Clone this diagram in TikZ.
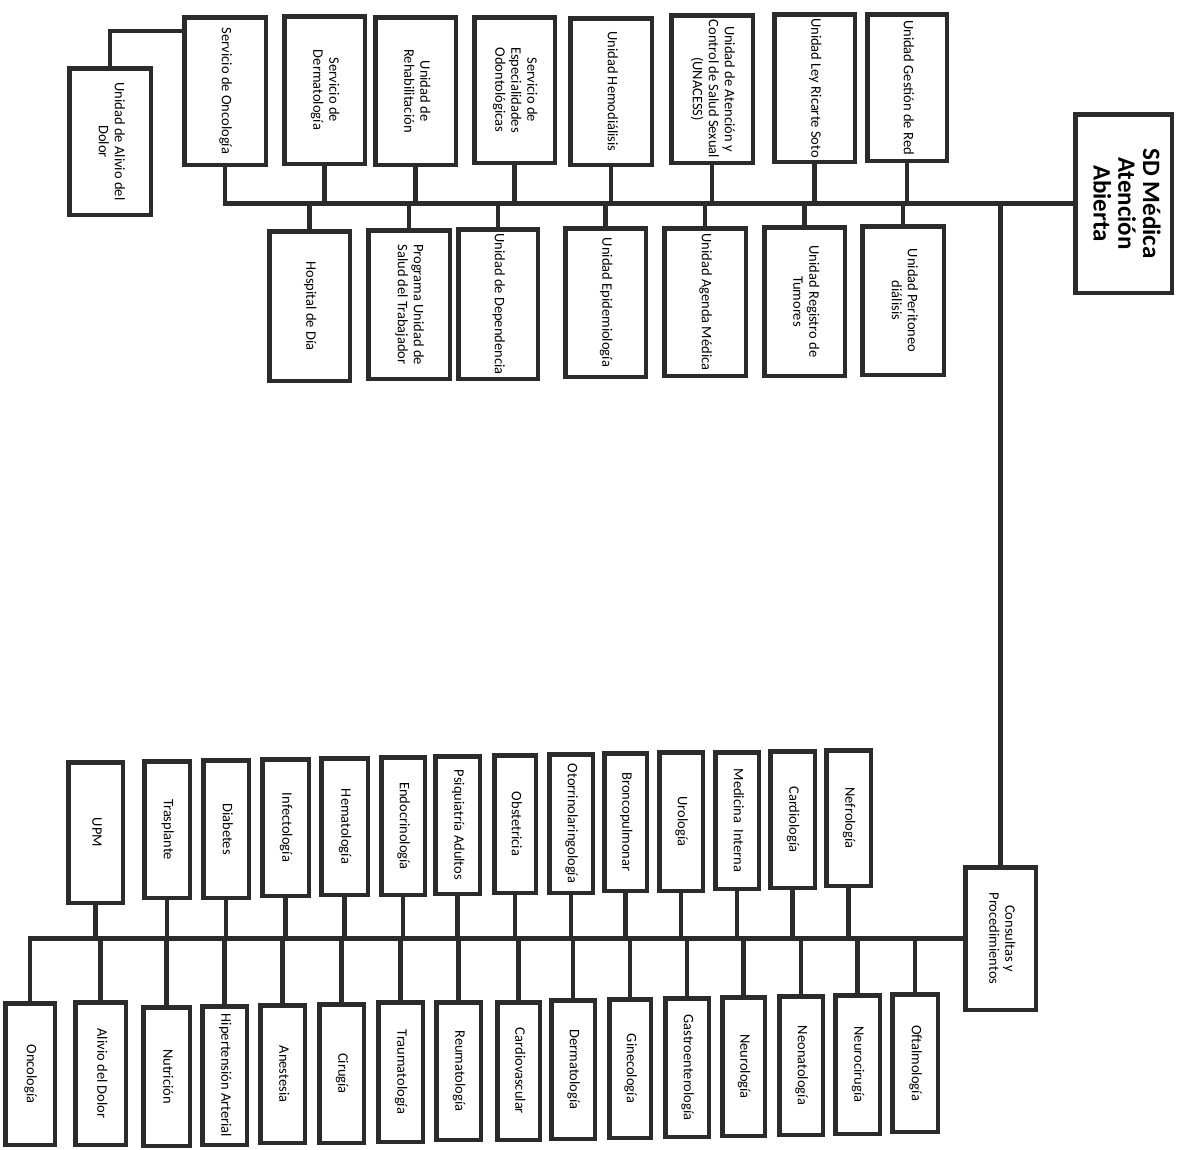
\documentclass[tikz,border=0pt]{standalone}
\usepackage{fontspec}
\setmainfont{Carlito}
\usepackage{graphicx}
\definecolor{lc}{HTML}{2B2B2B}
\newcommand\vtx[1]{\rotatebox{-90}{\begin{tabular}{@{}c@{}}#1\end{tabular}}}
\begin{document}
\begin{tikzpicture}[x=1pt,y=-1pt,
  bx/.style={draw=lc, line width=4.5pt, inner sep=0pt, fill=white, text=black,
    font=\fontsize{14.5}{16}\selectfont},
  sz/.style 2 args={minimum width=#1, minimum height=#2},
  ln/.style={draw=lc, line width=4.5pt}]
\fill[white] (0,0) rectangle (1180,1149);
\path[use as bounding box] (0,0) rectangle (1180,1149);
% ---- top upper row
\node[bx, sz={81.5}{147.5}] (onc) at (225,91) {\vtx{Servicio de Oncología}};
\node[bx, sz={80.5}{147.5}] (derm) at (324.5,90) {\vtx{Servicio de\\Dermatología}};
\node[bx, sz={80.5}{147.5}] (rehab) at (415.5,91) {\vtx{Unidad de\\Rehabilitación}};
\node[bx, sz={80.5}{145.5}] (odon) at (514.5,90) {\vtx{Servicio de\\Especialidades\\Odontológicas}};
\node[bx, sz={81.5}{146.5}] (hemo) at (611,91.5) {\vtx{Unidad Hemodiálisis}};
\node[bx, sz={81.5}{147.5}] (unac) at (712,89) {\vtx{Unidad de Atención y\\Control de Salud Sexual\\(UNACESS)}};
\node[bx, sz={80.5}{147.5}] (ricarte) at (814.5,88) {\vtx{Unidad Ley Ricarte Soto}};
\node[bx, sz={79.5}{146.5}] (gest) at (907,87.5) {\vtx{Unidad Gestión de Red}};
\node[bx, sz={81.5}{146.5}] (alivio) at (110,141.5) {\vtx{Unidad de Alivio del\\Dolor}};
% ---- top lower row
\node[bx, sz={80.5}{149.5}] (hosp) at (309.5,306) {\vtx{Hospital de Día}};
\node[bx, sz={81.5}{148.5}] (prog) at (409,304.5) {\vtx{Programa Unidad de\\Salud del Trabajador}};
\node[bx, sz={79.5}{149.5}] (dep) at (498,304) {\vtx{Unidad de Dependencia}};
\node[bx, sz={80.5}{148.5}] (epi) at (605.5,302.5) {\vtx{Unidad Epidemiología}};
\node[bx, sz={81.5}{147.5}] (agenda) at (705,302) {\vtx{Unidad Agenda Médica}};
\node[bx, sz={80.5}{148.5}] (tum) at (804.5,301.5) {\vtx{Unidad Registro de\\Tumores}};
\node[bx, sz={81.5}{148.5}] (perit) at (903,300.5) {\vtx{Unidad Peritoneo\\diálisis}};
% ---- root
\node[bx, sz={96.5}{178.5}, font=\fontsize{25}{24}\selectfont\bfseries] (sd) at (1123.5,203.5) {\vtx{SD Médica\\Atención\\Abierta}};
\node[bx, sz={70.5}{142.5}] (cons) at (1000.5,938.5) {\vtx{Consultas y\\Procedimientos}};
% ---- bottom upper row
\node[bx, sz={54.5}{140.5}] (upm) at (95.5,832.5) {\vtx{UPM}};
\node[bx, sz={45.5}{136.5}] (trasp) at (167,829.5) {\vtx{Trasplante}};
\node[bx, sz={45.5}{137.5}] (diab) at (226,829) {\vtx{Diabetes}};
\node[bx, sz={46.5}{136.5}] (infec) at (285.5,827.5) {\vtx{Infectología}};
\node[bx, sz={46.5}{136.5}] (hemat) at (344.5,826.5) {\vtx{Hematología}};
\node[bx, sz={43.5}{137.5}] (endo) at (403,826) {\vtx{Endocrinología}};
\node[bx, sz={44.5}{137.5}] (psiq) at (457.5,825) {\vtx{Psiquiatría Adultos}};
\node[bx, sz={41.5}{137.5}] (obst) at (515,824) {\vtx{Obstetricia}};
\node[bx, sz={43.5}{138.5}] (otor) at (571,823.5) {\vtx{Otorrinolaringología}};
\node[bx, sz={42.5}{137.5}] (bronc) at (625.5,822) {\vtx{Broncopulmonar}};
\node[bx, sz={43.5}{138.5}] (uro) at (681,821.5) {\vtx{Urología}};
\node[bx, sz={43.5}{136.5}] (medint) at (737,820.5) {\vtx{Medicina\ \ Interna}};
\node[bx, sz={44.5}{136.5}] (cardio) at (792.5,819.5) {\vtx{Cardiología}};
\node[bx, sz={44.5}{135.5}] (nefro) at (848.5,818) {\vtx{Nefrología}};
% ---- bottom lower row
\node[bx, sz={49.5}{141.5}] (oncB) at (30,1074) {\vtx{Oncología}};
\node[bx, sz={50.5}{142.5}] (alivB) at (100.5,1073.5) {\vtx{Alivio del Dolor}};
\node[bx, sz={46.5}{138.5}] (nutri) at (166.5,1076.5) {\vtx{Nutrición}};
\node[bx, sz={44.5}{138.5}] (hiper) at (224.5,1075.5) {\vtx{Hipertensión Arterial}};
\node[bx, sz={44.5}{137.5}] (anest) at (282.5,1074) {\vtx{Anestesia}};
\node[bx, sz={44.5}{138.5}] (ciru) at (341.5,1073.5) {\vtx{Cirugía}};
\node[bx, sz={44.5}{139.5}] (traum) at (400.5,1072) {\vtx{Traumatología}};
\node[bx, sz={44.5}{137.5}] (reuma) at (458.5,1071) {\vtx{Reumatología}};
\node[bx, sz={42.5}{137.5}] (cardiov) at (518.5,1071) {\vtx{Cardiovascular}};
\node[bx, sz={43.5}{138.5}] (dermB) at (573,1069.5) {\vtx{Dermatología}};
\node[bx, sz={41.5}{138.5}] (gine) at (630,1068.5) {\vtx{Ginecología}};
\node[bx, sz={43.5}{138.5}] (gastro) at (687,1067.5) {\vtx{Gastroenterología}};
\node[bx, sz={42.5}{138.5}] (neuro) at (743.5,1066.5) {\vtx{Neurología}};
\node[bx, sz={43.5}{138.5}] (neona) at (801,1065.5) {\vtx{Neonatología}};
\node[bx, sz={44.5}{138.5}] (neuroc) at (857.5,1064.5) {\vtx{Neurocirugía}};
\node[bx, sz={45.5}{137.5}] (oftal) at (915,1063) {\vtx{Oftalmología}};
% ---- connectors
\draw[ln] (onc.south) |- (sd.west);
\foreach \n in {derm,rehab,odon,hemo,unac,ricarte,gest}
  \draw[ln] (\n.south) -- (\n.south |- sd.west);
\foreach \n in {hosp,prog,dep,epi,agenda,tum,perit}
  \draw[ln] (\n.north) -- (\n.north |- sd.west);
\draw[ln] (alivio.north) |- ([yshift=-16pt]onc.north west);
\draw[ln] (cons.north) -- (cons.north |- sd.west);
\draw[ln] (cons.west) -| (oncB.north);
\foreach \n in {upm,trasp,diab,infec,hemat,endo,psiq,obst,otor,bronc,uro,medint,cardio,nefro}
  \draw[ln] (\n.south) -- (\n.south |- cons.west);
\foreach \n in {alivB,nutri,hiper,anest,ciru,traum,reuma,cardiov,dermB,gine,gastro,neuro,neona,neuroc,oftal}
  \draw[ln] (\n.north) -- (\n.north |- cons.west);
\end{tikzpicture}
\end{document}
